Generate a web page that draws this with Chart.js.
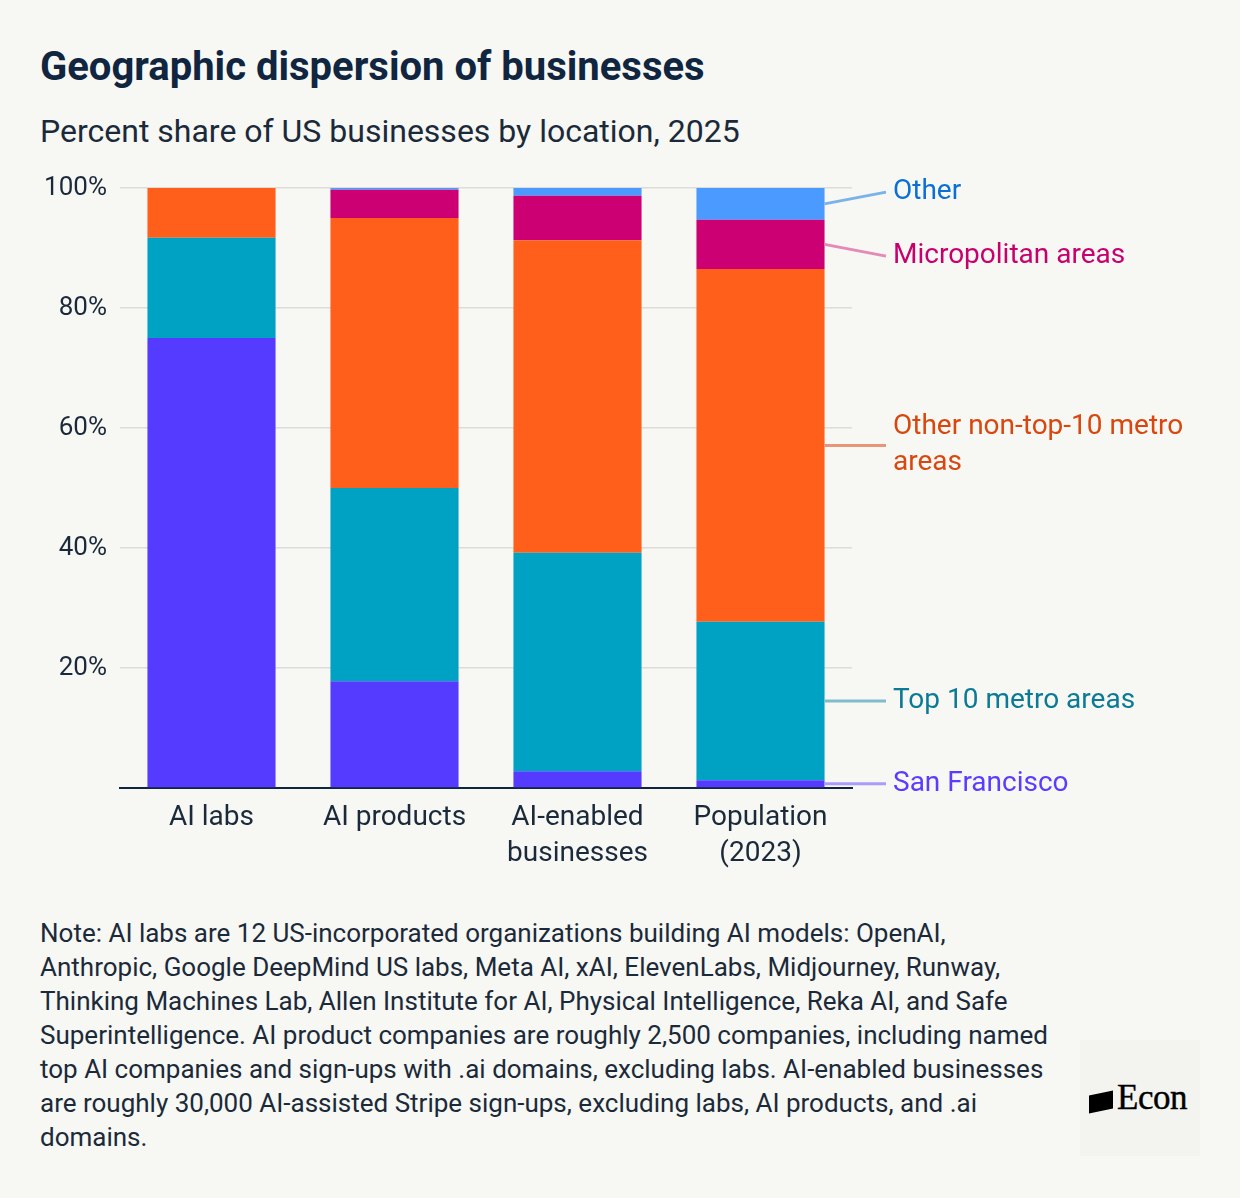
<!DOCTYPE html>
<html>
<head>
<meta charset="utf-8">
<script src="https://cdn.jsdelivr.net/npm/chart.js@4"></script>
<style>
  html, body { margin: 0; padding: 0; background: #f7f7f3; }
  body { width: 1240px; height: 1198px; position: relative; overflow: hidden; font-family: Roboto, "Noto Sans", sans-serif; color: #0f2540; }
  #title { position: absolute; left: 40px; top: 43px; font-size: 40px; line-height: 48px; font-weight: 700; color: #0f2540; }
  #subtitle { position: absolute; left: 40px; top: 112px; font-size: 32px; line-height: 38px; font-weight: 400; color: #1b2a3a; }
  #wrap { position: absolute; left: 0; top: 0; width: 1240px; height: 900px; }
  #note { position: absolute; left: 40px; top: 916px; font-size: 26px; line-height: 34px; color: #1b2a3a; white-space: nowrap; }
  #logo { position: absolute; left: 1080px; top: 1040px; width: 120px; height: 116px; background: #f3f3ef; }
  #logo .mark { position: absolute; left: 9px; top: 53px; width: 24px; height: 18px; background: #000; transform: skewY(-12deg); }
  #logo .txt { position: absolute; left: 37px; top: 38px; font-family: "Liberation Serif", "DejaVu Serif", serif; font-size: 35px; color: #000; letter-spacing: -0.5px; -webkit-text-stroke: 0.4px #000; }
</style>
</head>
<body>
<div id="title">Geographic dispersion of businesses</div>
<div id="subtitle">Percent share of US businesses by location, 2025</div>
<div id="wrap"><canvas id="c" width="1240" height="900"></canvas></div>
<div id="note">Note: AI labs are 12 US-incorporated organizations building AI models: OpenAI,<br>Anthropic, Google DeepMind US labs, Meta AI, xAI, ElevenLabs, Midjourney, Runway,<br>Thinking Machines Lab, Allen Institute for AI, Physical Intelligence, Reka AI, and Safe<br>Superintelligence. AI product companies are roughly 2,500 companies, including named<br>top AI companies and sign-ups with .ai domains, excluding labs. AI-enabled businesses<br>are roughly 30,000 AI-assisted Stripe sign-ups, excluding labs, AI products, and .ai<br>domains.</div>
<div id="logo"><div class="mark"></div><div class="txt">Econ</div></div>
<script>
const categories = [["AI labs"], ["AI products"], ["AI-enabled", "businesses"], ["Population", "(2023)"]];
const seriesNames = ["San Francisco", "Top 10 metro areas", "Other non-top-10 metro areas", "Micropolitan areas", "Other"];
const sanFrancisco = [75, 17.8, 2.8, 1.3];
const top10Metro = [16.7, 32.2, 36.4, 26.4];
const otherMetro = [8.3, 45, 52.1, 58.8];
const micropolitan = [0, 4.7, 7.4, 8.2];
const otherLoc = [0, 0.3, 1.3, 5.3];
const yTicks = [0, 20, 40, 60, 80, 100];

const barColors = ["#553bff", "#00a2c4", "#ff5f1a", "#cc0073", "#4a9aff"];
const textColors = ["#5a3cff", "#0b7a96", "#d9470e", "#c8006e", "#0a6fd6"];
const lineColors = ["#a99cfb", "#80bccc", "#e8957a", "#e58ab8", "#7ab3e8"];
const labelLines = [["San Francisco"], ["Top 10 metro areas"], ["Other non-top-10 metro", "areas"], ["Micropolitan areas"], ["Other"]];

const seriesData = [sanFrancisco, top10Metro, otherMetro, micropolitan, otherLoc];

const rightLabels = {
  id: 'rightLabels',
  afterDatasetsDraw(chart) {
    const ctx = chart.ctx;
    const last = chart.data.labels.length - 1;
    const items = [];
    chart.data.datasets.forEach((ds, i) => {
      const el = chart.getDatasetMeta(i).data[last];
      const mid = (el.y + el.base) / 2;
      items.push({ i, mid, y: mid, x0: el.x + el.width / 2 });
    });
    const gap = 64;
    items.sort((a, b) => a.mid - b.mid);
    for (let iter = 0; iter < 50; iter++) {
      let moved = false;
      for (let k = 0; k < items.length - 1; k++) {
        const a = items[k], b = items[k + 1];
        const need = gap + (labelLines[a.i].length - 1) * 18 + (labelLines[b.i].length - 1) * 18;
        if (b.y - a.y < need) {
          const d = (need - (b.y - a.y)) / 2;
          a.y -= d; b.y += d; moved = true;
        }
      }
      if (!moved) break;
    }
    ctx.save();
    ctx.font = '28px Roboto, "Noto Sans", sans-serif';
    ctx.textBaseline = 'middle';
    ctx.textAlign = 'left';
    items.forEach(it => {
      ctx.strokeStyle = lineColors[it.i];
      ctx.lineWidth = 3;
      ctx.beginPath();
      ctx.moveTo(it.x0, it.mid);
      ctx.lineTo(886, it.y);
      ctx.stroke();
      ctx.fillStyle = textColors[it.i];
      const lines = labelLines[it.i];
      const lh = 36;
      const startY = it.y - (lines.length - 1) * lh / 2;
      lines.forEach((t, k) => ctx.fillText(t, 893, startY + k * lh));
    });
    ctx.restore();
  }
};

new Chart(document.getElementById('c'), {
  type: 'bar',
  data: {
    labels: categories,
    datasets: seriesNames.map((n, i) => ({
      label: n,
      data: seriesData[i],
      backgroundColor: barColors[i],
      borderWidth: 0,
      barPercentage: 0.7,
      categoryPercentage: 1.0
    }))
  },
  options: {
    responsive: false,
    animation: false,
    layout: { padding: { left: 0, right: 388, top: 188, bottom: 0 } },
    plugins: { legend: { display: false }, tooltip: { enabled: false } },
    scales: {
      x: {
        stacked: true,
        grid: { display: false },
        border: { display: true, color: '#0f2540', width: 2 },
        ticks: { color: '#1b2a3a', font: { family: 'Roboto', size: 28, lineHeight: '36px' }, padding: 4, maxRotation: 0 },
        afterFit(scale) { scale.height = 112; }
      },
      y: {
        stacked: true,
        min: 0, max: 100,
        afterBuildTicks(scale) { scale.ticks = yTicks.map(v => ({ value: v })); },
        grid: {
          color: ctx => ctx.tick && ctx.tick.value === 0 ? 'rgba(0,0,0,0)' : '#dcdcd8',
          lineWidth: 1.5,
          drawTicks: false
        },
        border: { display: false },
        ticks: {
          color: '#1b2a3a',
          font: { family: 'Roboto', size: 26 },
          padding: 13,
          callback: v => v === 0 ? '' : v + '%'
        },
        afterFit(scale) { scale.width = 120; }
      }
    }
  },
  plugins: [rightLabels]
});
</script>
</body>
</html>
